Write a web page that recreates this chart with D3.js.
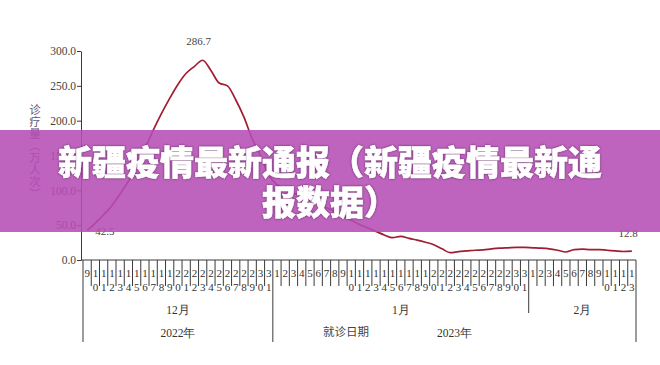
<!DOCTYPE html>
<html>
<head>
<meta charset="utf-8">
<script src="https://cdn.jsdelivr.net/npm/d3@7"></script>
<style>
  html, body { margin: 0; padding: 0; background: #fff; }
  svg { display: block; }
</style>
</head>
<body>
<div id="chart"></div>
<script>
const WIDTH = 660;
const HEIGHT = 365;

// day-of-month tick labels, Dec 9 2022 .. Feb 13 2023
const decDays = [9, 10, 11, 12, 13, 14, 15, 16, 17, 18, 19, 20, 21, 22, 23, 24, 25, 26, 27, 28, 29, 30, 31];
const janDays = [1, 2, 3, 4, 5, 6, 7, 8, 9, 10, 11, 12, 13, 14, 15, 16, 17, 18, 19, 20, 21, 22, 23, 24, 25, 26, 27, 28, 29, 30, 31];
const febDays = [1, 2, 3, 4, 5, 6, 7, 8, 9, 10, 11, 12, 13];

const monthLabels = ['12月', '1月', '2月'];
const yearLabels = ['2022年', '2023年'];

// 诊疗量（万人次）
const visits = [
  42.5, 53, 65, 78, 95, 113, 135, 160, 186, 210, 232, 252, 268, 278, 286.7,
  272, 254, 250, 230, 205, 174, 150, 122,
  108, 102, 96, 91, 86, 81, 75, 70, 64, 57, 51, 46, 41, 36, 32, 34, 31, 28.5, 25.5, 22, 16, 10.5,
  12, 13, 14, 14.5, 16, 17, 17.5, 18, 18,
  17.5, 17, 16, 14, 11.5, 15, 15.5, 15, 15, 14, 13, 12.2, 12.8
];

const yTicks = [0, 50, 100, 150, 200, 250, 300];

const months = [decDays, janDays, febDays];
const days = [];
months.forEach((list, m) => list.forEach(d => days.push({ m, d, key: `${m}-${d}` })));

const svg = d3.select('#chart').append('svg')
  .attr('width', WIDTH)
  .attr('height', HEIGHT);

const x = d3.scaleBand()
  .domain(days.map(d => d.key))
  .range([83, 636])
  .padding(0);

const y = d3.scaleLinear()
  .domain([0, 300])
  .range([260, 51]);

const serif = '"Liberation Serif", "Times New Roman", serif';
const cjk = '"Noto Sans CJK SC", sans-serif';
const axisColor = '#3a3a3a';

// y axis
const yAxis = svg.append('g')
  .attr('transform', 'translate(81,0)')
  .call(d3.axisLeft(y).tickValues(yTicks).tickFormat(d3.format('.1f')).tickSize(4).tickSizeOuter(0));
yAxis.select('.domain').attr('stroke', axisColor);
yAxis.selectAll('.tick line').attr('stroke', axisColor);
yAxis.selectAll('.tick text')
  .attr('font-family', serif)
  .attr('font-size', 11.5)
  .attr('fill', '#444')
  .attr('x', -5);

// y axis title, vertical
svg.append('text')
  .attr('x', 35)
  .attr('y', 104)
  .attr('font-family', cjk)
  .attr('font-size', 11.5)
  .attr('fill', '#6b5570')
  .style('writing-mode', 'vertical-rl')
  .style('letter-spacing', '0.5px')
  .text('诊疗量（万人次）');

// x baseline
svg.append('line')
  .attr('x1', 81).attr('x2', 636)
  .attr('y1', 260).attr('y2', 260)
  .attr('stroke', axisColor);

// day cell separators
const bw = x.bandwidth();
const bounds = days.map((d, i) => ({ x: x(d.key), i }));
bounds.push({ x: x(days[days.length - 1].key) + bw, i: days.length });

const monthStart = [0, decDays.length, decDays.length + janDays.length, days.length];

svg.append('g').selectAll('line')
  .data(bounds)
  .join('line')
  .attr('x1', d => d.x).attr('x2', d => d.x)
  .attr('y1', 260)
  .attr('y2', d => {
    if (d.i === 0 || d.i === days.length || d.i === monthStart[1]) return 342;
    if (d.i === monthStart[2]) return 313;
    return 286;
  })
  .attr('stroke', axisColor)
  .attr('stroke-width', 1);

// day digits, stacked vertically
const dayG = svg.append('g')
  .attr('font-family', serif)
  .attr('font-size', 11)
  .attr('fill', '#333')
  .attr('text-anchor', 'middle');

days.forEach(d => {
  String(d.d).split('').forEach((ch, k) => {
    dayG.append('text')
      .attr('x', x(d.key) + bw / 2)
      .attr('y', 277 + k * 14)
      .text(ch);
  });
});

// month labels
monthLabels.forEach((lab, m) => {
  const x0 = x(days[monthStart[m]].key);
  const x1 = x(days[monthStart[m + 1] - 1].key) + bw;
  svg.append('text')
    .attr('x', (x0 + x1) / 2)
    .attr('y', 314)
    .attr('text-anchor', 'middle')
    .attr('font-family', serif)
    .attr('font-size', 11.5)
    .attr('fill', '#333')
    .text(lab);
});

// year labels
const yearSpans = [[0, monthStart[1]], [monthStart[1], days.length]];
yearLabels.forEach((lab, k) => {
  const x0 = x(days[yearSpans[k][0]].key);
  const x1 = x(days[yearSpans[k][1] - 1].key) + bw;
  svg.append('text')
    .attr('x', (x0 + x1) / 2)
    .attr('y', 337)
    .attr('text-anchor', 'middle')
    .attr('font-family', serif)
    .attr('font-size', 11.5)
    .attr('fill', '#333')
    .text(lab);
});

// x axis title
svg.append('text')
  .attr('x', 346)
  .attr('y', 336)
  .attr('text-anchor', 'middle')
  .attr('font-family', cjk)
  .attr('font-size', 11.5)
  .attr('fill', '#444')
  .text('就诊日期');

// the line
const line = d3.line()
  .x((v, i) => x(days[i].key) + bw / 2)
  .y(v => y(v))
  .curve(d3.curveMonotoneX);

svg.append('path')
  .datum(visits)
  .attr('fill', 'none')
  .attr('stroke', '#a11d33')
  .attr('stroke-width', 1.7)
  .attr('d', line);

// value labels
const peakIdx = visits.indexOf(d3.max(visits));
const lastIdx = visits.length - 1;
const valLabels = [
  { i: 0, dx: 8, dy: 5, anchor: 'start' },
  { i: peakIdx, dx: -4, dy: -15, anchor: 'middle' },
  { i: lastIdx, dx: 6, dy: -14, anchor: 'end' }
];
svg.append('g').selectAll('text')
  .data(valLabels)
  .join('text')
  .attr('x', d => x(days[d.i].key) + bw / 2 + d.dx)
  .attr('y', d => y(visits[d.i]) + d.dy)
  .attr('text-anchor', d => d.anchor)
  .attr('font-family', serif)
  .attr('font-size', 11)
  .attr('fill', '#444')
  .text(d => visits[d.i]);

// purple banner on top
svg.append('rect')
  .attr('x', 0).attr('y', 130)
  .attr('width', WIDTH).attr('height', 102)
  .attr('fill', '#b54db5')
  .attr('fill-opacity', 0.88);

const title = ['新疆疫情最新通报（新疆疫情最新通', '报数据）'];
svg.append('g').selectAll('text')
  .data(title)
  .join('text')
  .attr('x', WIDTH / 2)
  .attr('y', (d, i) => 175 + i * 40)
  .attr('text-anchor', 'middle')
  .attr('font-family', cjk)
  .attr('font-weight', 900)
  .attr('font-size', 34)
  .attr('fill', '#fff')
  .attr('stroke', '#fff')
  .attr('stroke-width', 0.6)
  .style('filter', 'drop-shadow(0px 0px 1px rgba(60,20,60,0.7))')
  .text(d => d);
</script>
</body>
</html>
